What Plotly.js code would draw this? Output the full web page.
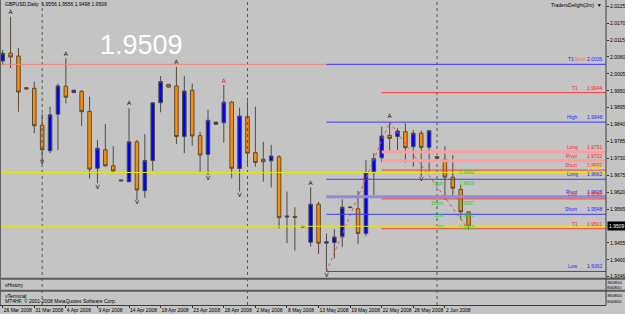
<!DOCTYPE html>
<html>
<head>
<meta charset="utf-8">
<script src="https://cdn.plot.ly/plotly-3.0.1.min.js"></script>
<style>html,body{margin:0;padding:0;background:#c4c4c4;}#chart{width:625px;height:314px;}</style>
</head>
<body>
<div id="chart"></div>
<script>
// ---- data ----
const tickLabels = ["26 Mar 2008","31 Mar 2008","4 Apr 2008","9 Apr 2008","14 Apr 2008","18 Apr 2008","23 Apr 2008","28 Apr 2008","2 May 2008","8 May 2008","13 May 2008","19 May 2008","22 May 2008","28 May 2008","2 Jun 2008"];
const open = [2.0047,2.0073,2.0063,1.9960,1.9958,1.9838,1.9755,1.9874,1.9965,1.9944,
1.9948,1.9883,1.9698,1.9758,1.9706,1.9660,1.9654,1.9784,1.9625,1.9723,
1.9911,1.9971,1.9966,1.9801,1.9952,1.9804,1.9743,1.9841,1.9846,1.9913,
1.9697,1.9866,1.9749,1.9727,1.9722,1.9735,1.9539,1.9541,1.9509,1.9457,
1.9581,1.9454,1.9456,1.9475,1.9572,1.9566,1.9486,1.9687,1.9732,1.9805,
1.9801,1.9817,1.9768,1.9812,1.9766,1.9736,1.9727,1.9669,1.9629,1.9556];
const high = [2.0083,2.0191,2.0090,1.9962,1.9980,1.9875,1.9898,1.9974,2.0056,1.9953,
1.9953,1.9931,1.9790,1.9842,1.9770,1.9662,1.9893,1.9790,1.9809,1.9913,
1.9998,1.9972,2.0028,1.9998,1.9974,1.9817,1.9888,1.9849,1.9969,1.9917,
1.9895,1.9915,1.9898,1.9784,1.9774,1.9741,1.9622,1.9571,1.9510,1.9636,
1.9589,1.9486,1.9499,1.9597,1.9574,1.9624,1.9725,1.9747,1.9833,1.9848,
1.9828,1.9844,1.9822,1.9820,1.9822,1.9738,1.9770,1.9741,1.9643,1.9556];
const low = [2.0034,2.0024,1.9882,1.9954,1.9812,1.9719,1.9747,1.9757,1.9909,1.9943,
1.9835,1.9665,1.9649,1.9703,1.9687,1.9655,1.9653,1.9595,1.9602,1.9689,
1.9880,1.9961,1.9777,1.9747,1.9771,1.9687,1.9676,1.9840,1.9781,1.9665,
1.9622,1.9709,1.9703,1.9654,1.9635,1.9502,1.9454,1.9430,1.9506,1.9443,
1.9419,1.9362,1.9405,1.9441,1.9568,1.9451,1.9477,1.9611,1.9718,1.9747,
1.9757,1.9716,1.9703,1.9670,1.9687,1.9728,1.9595,1.9605,1.9532,1.9498];
const close = [2.0072,2.0060,1.9946,1.9956,1.9836,1.9758,1.9872,1.9966,1.9929,1.9952,
1.9882,1.9695,1.9763,1.9706,1.9689,1.9657,1.9784,1.9627,1.9723,1.9911,
1.9980,1.9962,1.9801,1.9949,1.9803,1.9741,1.9854,1.9848,1.9913,1.9698,
1.9868,1.9747,1.9717,1.9719,1.9738,1.9537,1.9542,1.9538,1.9507,1.9581,
1.9454,1.9459,1.9474,1.9571,1.9570,1.9486,1.9683,1.9730,1.9803,1.9795,
1.9819,1.9765,1.9812,1.9766,1.9820,1.9730,1.9669,1.9633,1.9556,1.9509];

const priceTicks = [2.0225,2.0170,2.0115,2.0060,2.0005,1.9950,1.9895,1.9840,1.9785,1.9730,1.9675,1.9620,1.9565,1.9455,1.9400,1.9346];

const upBars = [1,8,16,22,28,39,49];
const upPrice = [2.0204,2.0067,1.9909,2.0043,1.9980,1.9649,1.9866];
const downBars = [5,12,17,26,30,41,53];
const downPrice = [1.9717,1.9635,1.9587,1.9664,1.9610,1.9350,1.9660];

const zzBars = [41,49,59];
const zzPrice = [1.9362,1.9848,1.9498];

const monthBars = [5,31,55];

const blueNames = ["T1","High","Long","Pivot","Short","Low"];
const blueVals = [2.0036,1.9848,1.9662,1.9605,1.9548,1.9362];
const blueStart = 41;
const redNames = ["T1","Long","Pivot","Short","Low","T1"];
const redVals = [1.9944,1.9751,1.9722,1.9692,1.9598,1.9501];
const redStart = 48;
const salmonNames = ["Short","High"];
const salmonVals = [2.0036,1.9338];
const yellowVals = [1.9684,1.9509];

const greenNames = ["","High","Short","Low","T1"];
const greenVals = ["1.9682","1.9626","1.9587","1.9546","1.9510"];
const greenAt = [1.9686,1.9650,1.9585,1.9546,1.9507];

const lastPrice = 1.9509;

// ---- layout helpers ----
const W = 606, H = 305;
const px = v => v / W;
const py = v => (H - v) / H;
const xMin = -0.34, xMax = 76.4;
const bars = open.map((_, i) => i);

const traces = [{
  type: 'candlestick', x: bars, open: open, high: high, low: low, close: close,
  increasing: {fillcolor: '#0000ff', line: {color: '#4a4a4a', width: 1}},
  decreasing: {fillcolor: '#ff8c00', line: {color: '#5a4a3a', width: 1}},
  whiskerwidth: 0, hoverinfo: 'skip'
}, {
  type: 'scatter', mode: 'lines', x: zzBars, y: zzPrice,
  line: {color: '#e84848', width: 1, dash: 'dot'}, hoverinfo: 'skip'
}, {
  type: 'scatter', mode: 'text', x: upBars, y: upPrice, text: upBars.map(() => 'A'),
  textfont: {family: 'DejaVu Sans', size: 6, color: upBars.map(b => b === 28 ? '#e02020' : '#111')},
  hoverinfo: 'skip'
}, {
  type: 'scatter', mode: 'text', x: downBars, y: downPrice, text: downBars.map(() => 'V'),
  textfont: {family: 'DejaVu Sans', size: 6, color: '#111'}, hoverinfo: 'skip'
}];

const shapes = [];
// month separators
monthBars.forEach(b => shapes.push({type: 'line', xref: 'x', yref: 'paper', x0: b, x1: b, y0: 0, y1: 1,
  line: {color: '#555', width: 1, dash: 'dot'}}));
// full-width lines
shapes.push({type: 'line', xref: 'x', yref: 'y', x0: xMin, x1: xMax, y0: salmonVals[0], y1: salmonVals[0], line: {color: '#f08878', width: 1}});
yellowVals.forEach(v => shapes.push({type: 'line', xref: 'x', yref: 'y', x0: xMin, x1: xMax, y0: v, y1: v, line: {color: '#e8e800', width: 1}}));
// blue levels
blueNames.forEach((n, i) => {
  const thick = n === 'Pivot';
  shapes.push({type: 'line', xref: 'x', yref: 'y', x0: blueStart, x1: xMax, y0: blueVals[i], y1: blueVals[i],
    line: {color: thick ? '#8c8ce0' : '#3c3cff', width: thick ? 3 : 1}});
});
// red levels
redNames.forEach((n, i) => {
  const thick = n === 'Long' || n === 'Pivot';
  shapes.push({type: 'line', xref: 'x', yref: 'y', x0: redStart, x1: xMax, y0: redVals[i], y1: redVals[i],
    line: {color: thick ? '#ff9e9e' : '#ff3c3c', width: thick ? 3 : 1}});
});
// panel separators & frame
shapes.push({type: 'line', xref: 'paper', yref: 'paper', x0: 0, x1: 625 / W, y0: py(278.8), y1: py(278.8), line: {color: '#5a5a5a', width: 2}});
shapes.push({type: 'line', xref: 'paper', yref: 'paper', x0: 0, x1: 625 / W, y0: py(290.8), y1: py(290.8), line: {color: '#5a5a5a', width: 2}});
shapes.push({type: 'line', xref: 'paper', yref: 'paper', x0: 1, x1: 1, y0: 0, y1: 1, line: {color: '#404040', width: 1}});
shapes.push({type: 'line', xref: 'paper', yref: 'paper', x0: 0.5 / W, x1: 0.5 / W, y0: 0, y1: 1, line: {color: '#666', width: 1}});

const small = {family: 'Liberation Sans, Arial, sans-serif', size: 5, color: '#000'};
const ann = [];
const txt = (text, x, y, color, xanchor, yref, extra) => Object.assign({
  text: text, xref: 'paper', yref: yref || 'paper', x: x, y: y, showarrow: false,
  xanchor: xanchor || 'left', yanchor: 'middle', font: Object.assign({}, small, {color: color || '#000'})
}, extra || {});

ann.push(txt('GBPUSD,Daily  1.9556 1.9556 1.9498 1.9509', px(3), py(4)));
ann.push(txt('TradersDelight(2m)  \u25BC', px(604), py(5), '#000', 'right'));
ann.push(txt('1.9509', px(141), py(45), '#ffffff', 'center', 'paper',
  {font: {family: 'Liberation Sans, Arial, sans-serif', size: 27, color: '#ffffff'}}));
ann.push(txt('vHistory', px(3), py(284.5)));
ann.push(txt('vTerminal', px(3), py(296)));
ann.push(txt('MT4HF, \u00A9 2001-2008 MetaQuotes Software Corp.', px(3), py(301)));
const tiny = {family: 'Liberation Sans, Arial, sans-serif', size: 4.3, color: '#000'};
[['-900800', 282], ['900800', 287], ['-900800', 295.5], ['900800', 301.5]].forEach(p =>
  ann.push(txt(p[0], px(624), py(p[1]), '#000', 'right', 'paper', {font: tiny})));

// level labels
const lvl = (text, xr, v, color) => ({text: text, xref: 'paper', yref: 'y', x: px(xr), y: v, showarrow: false,
  xanchor: 'right', yanchor: 'bottom', font: Object.assign({}, small, {color: color})});
blueNames.forEach((n, i) => {
  ann.push(lvl(n, i === 0 ? 576 : 580, blueVals[i], '#2828ff'));
  ann.push(lvl(blueVals[i].toFixed(4), 605, blueVals[i], '#2828ff'));
});
redNames.forEach((n, i) => {
  ann.push(lvl(n, 580, redVals[i], '#ff2828'));
  ann.push(lvl(redVals[i].toFixed(4), 605, redVals[i], '#ff2828'));
});
ann.push(lvl(salmonNames[0], 589, salmonVals[0], '#f07868'));
ann.push(lvl(salmonNames[1], 580, salmonVals[1], '#f07868'));
ann.push(lvl(salmonVals[1].toFixed(4), 605, salmonVals[1], '#f07868'));
ann.push(lvl(yellowVals[0].toFixed(4), 605, yellowVals[0], '#e8e800'));
greenNames.forEach((n, i) => {
  if (n) ann.push({text: n, xref: 'paper', yref: 'y', x: px(446), y: greenAt[i], showarrow: false, xanchor: 'right', yanchor: 'middle', font: Object.assign({}, small, {color: '#30d030'})});
  ann.push({text: greenVals[i], xref: 'paper', yref: 'y', x: px(457), y: greenAt[i], showarrow: false, xanchor: 'left', yanchor: 'middle', font: Object.assign({}, small, {color: '#30d030'})});
});
// last price box
ann.push({text: lastPrice.toFixed(4), xref: 'paper', yref: 'y', x: px(607), y: lastPrice, showarrow: false,
  xanchor: 'left', yanchor: 'middle', bgcolor: '#000', borderpad: 1,
  font: Object.assign({}, small, {color: '#fff'})});

const layout = {
  width: 625, height: 314,
  margin: {l: 0, r: 19, t: 0, b: 9, pad: 0},
  paper_bgcolor: '#c4c4c4', plot_bgcolor: '#c4c4c4',
  showlegend: false, boxgap: 0.36,
  xaxis: {
    range: [xMin, xMax], anchor: 'free', position: 0,
    tickmode: 'array', tickvals: tickLabels.map((_, i) => i * 4), ticktext: tickLabels,
    ticks: 'outside', ticklen: 2, tickcolor: '#333', ticklabelposition: 'outside right',
    tickangle: 0, automargin: false,
    tickfont: small, showgrid: false, zeroline: false, showline: true, linecolor: '#404040',
    rangeslider: {visible: false}, fixedrange: true
  },
  yaxis: {
    domain: [py(278), 1], range: [1.93407, 2.02455], side: 'right',
    tickmode: 'array', tickvals: priceTicks, ticktext: priceTicks.map(v => v.toFixed(4)),
    ticks: 'outside', ticklen: 2, tickcolor: '#333', tickfont: small, automargin: false,
    showgrid: false, zeroline: false, showline: false, fixedrange: true
  },
  shapes: shapes,
  annotations: ann
};

Plotly.newPlot('chart', traces, layout, {staticPlot: true, displayModeBar: false});
</script>
</body>
</html>
